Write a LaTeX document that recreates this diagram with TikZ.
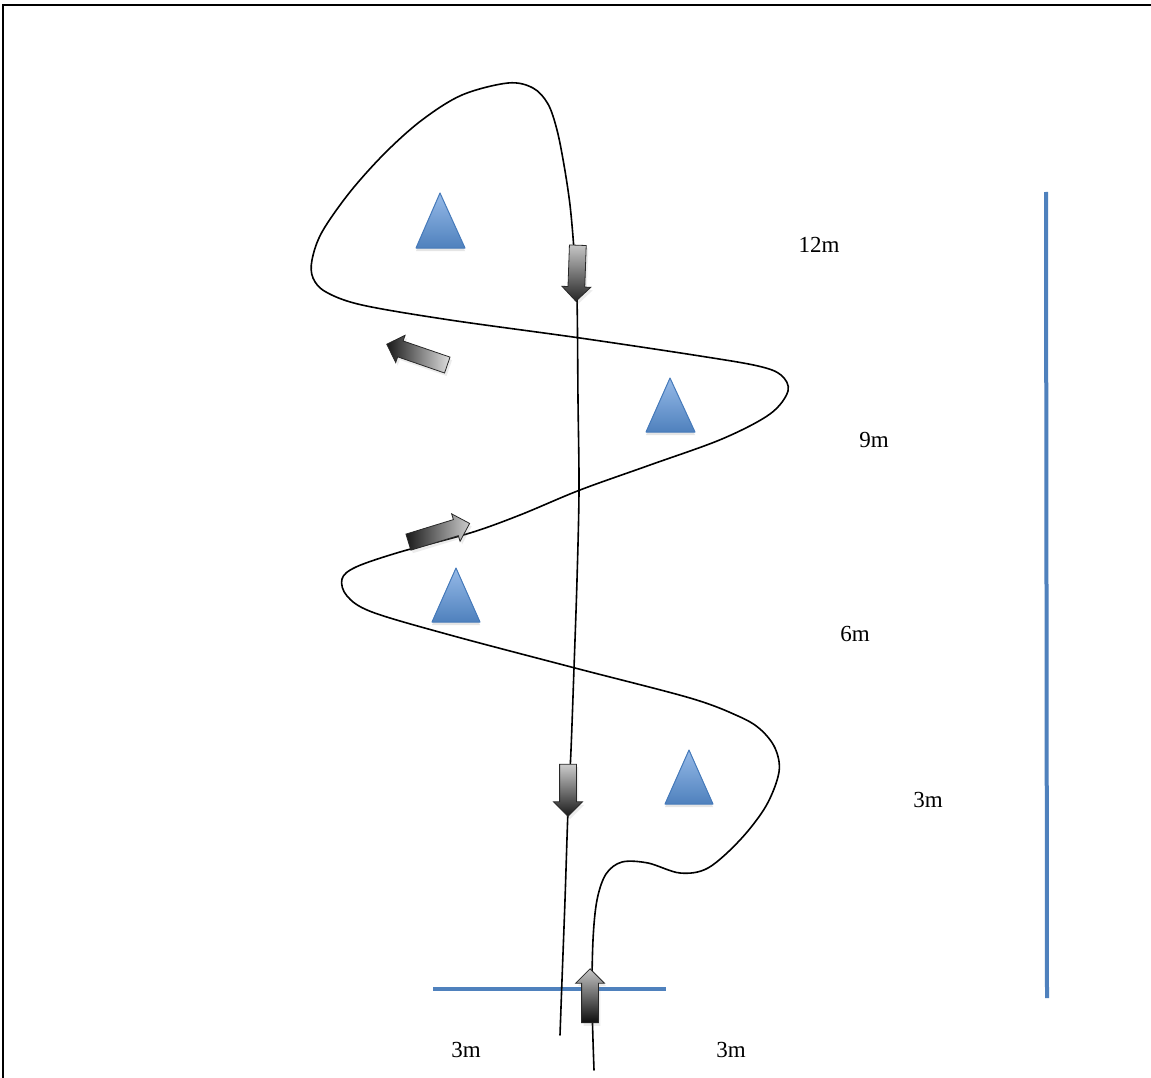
\documentclass[tikz,border=0pt]{standalone}
\usepackage{fontspec}
\setmainfont{Liberation Serif}
\usepackage{tikz}
\usetikzlibrary{shapes.arrows, shadows}
\definecolor{ConeBlue}{RGB}{79, 129, 189}
\definecolor{ConeLight}{RGB}{150, 186, 232}
\definecolor{ConeEdge}{RGB}{70, 122, 186}
\definecolor{ArrowEdge}{RGB}{40, 40, 40}

\tikzset{
  course/.style={black, line width=1.6pt, line join=round, line cap=round},
  markline/.style={ConeBlue, line width=4pt},
  cone/.style={top color=ConeLight, bottom color=ConeBlue, draw=ConeEdge,
               line width=1pt, line join=round,
               drop shadow={shadow xshift=0pt, shadow yshift=-3pt, opacity=0.2}},
  blockarrow/.style={single arrow, draw=ArrowEdge, line width=0.8pt,
                     inner xsep=0pt, inner ysep=8pt, single arrow head extend=6pt,
                     drop shadow={shadow xshift=2pt, shadow yshift=-3pt, opacity=0.15}},
  dist/.style={font=\fontsize{23}{27}\selectfont}
}

\begin{document}
\begin{tikzpicture}[x=1pt,y=-1pt]
  \path[use as bounding box] (0,0) rectangle (1151,1078);
  \fill[white] (0,0) rectangle (1151,1078);

  % frame
  \draw[black, line width=2pt] (1151,5) -- (3,5) -- (3,1078);

  % distance lines
  \draw[markline] (1046,192) -- (1047,998);
  \draw[markline] (433,989) -- (666,989);

  % winding course, top loop runs straight back down
  \draw[course] plot[smooth, tension=0.55] coordinates {
    (594,1070) (592,1000) (593,940) (597,900) (606,874) (622,862) (648,863)
    (680,873) (708,868) (740,840) (766,806) (779,772) (775,748) (760,729)
    (738,716) (690,698) (575,668) (450,635) (372,612) (347,596) (342,579)
    (356,567) (400,552) (470,533) (520,515) (580,490) (650,465) (722,439)
    (770,414) (788,391) (781,375) (758,366) (700,356) (580,338) (450,320)
    (362,305) (326,292) (313,278) (312,260) (322,232) (350,192) (385,153)
    (422,120) (462,95) (508,83) (533,88) (548,104) (557,130) (564,165)
    (570,205) (574,250) (577,300) (578,400) (579,490) (577,580) (574,668)
    (571,750) (568,810) (565,900) (562,980) (560,1035)};

  % cones
  \path[cone] (440,193) -- (465,248) -- (416,248) -- cycle;
  \path[cone] (670,378) -- (695,432) -- (646,432) -- cycle;
  \path[cone] (456,568) -- (480,622) -- (432,622) -- cycle;
  \path[cone] (689,750) -- (713,804) -- (665,804) -- cycle;

  % direction arrows
  \node[blockarrow, minimum height=56pt, rotate=-92, top color=gray!45, bottom color=black!85]
    (arrTop) at (577,269) {};
  \node[blockarrow, minimum height=64pt, rotate=161, left color=black!90, right color=gray!25]
    (arrLeft) at (421,356) {};
  \node[blockarrow, minimum height=64pt, rotate=17, left color=black!90, right color=gray!40]
    (arrRight) at (435,534) {};
  \node[blockarrow, minimum height=52pt, rotate=-90, top color=gray!40, bottom color=black!90]
    (arrDown) at (568,786) {};
  \node[blockarrow, minimum height=54pt, rotate=90, top color=gray!45, bottom color=black!95]
    (arrStart) at (590,1000) {};

  % distances
  \node[dist] (d12) at (819,245) {12m};
  \node[dist] (d9) at (874,440) {9m};
  \node[dist] (d6) at (855,634) {6m};
  \node[dist] (d3) at (928,800) {3m};
  \node[dist] (wLeft) at (466,1050) {3m};
  \node[dist] (wRight) at (731,1050) {3m};
\end{tikzpicture}
\end{document}
